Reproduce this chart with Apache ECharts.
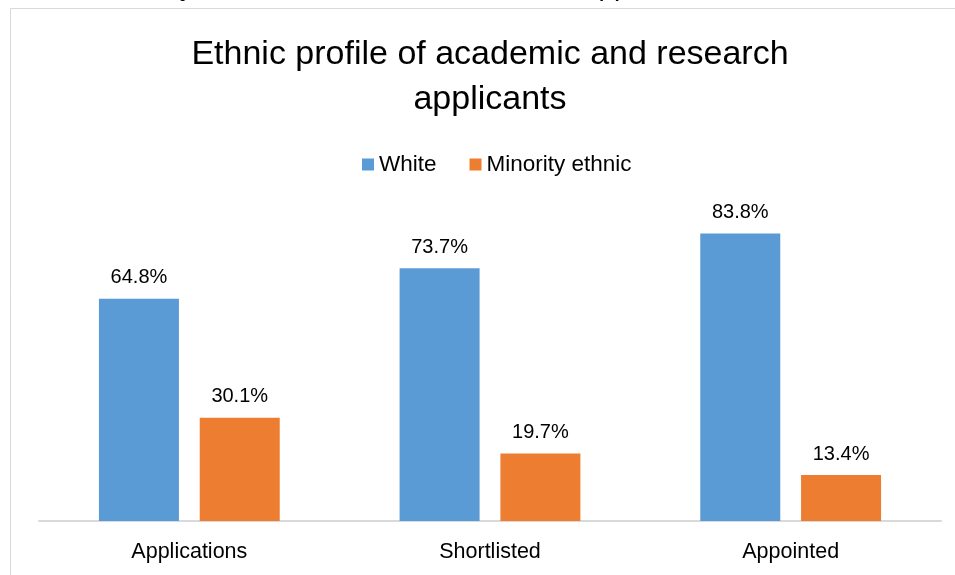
<!DOCTYPE html>
<html><head><meta charset="utf-8">
<script src="https://cdn.jsdelivr.net/npm/echarts@6/dist/echarts.min.js"></script>
<style>html,body{margin:0;padding:0;background:#fff}#c{width:955px;height:575px}</style>
</head><body><div id="c"></div>
<script>
const categories = ['Applications', 'Shortlisted', 'Appointed'];
const whiteValues = [64.8, 73.7, 83.8];
const minorityValues = [30.1, 19.7, 13.4];
const seriesNames = ['White', 'Minority ethnic'];
const titleText = 'Ethnic profile of academic and research\napplicants';
const captionText = 'Figure 10: Minority ethnic academic and research applicants to the';

const FONT = 'Liberation Sans';
const chart = echarts.init(document.getElementById('c'), null, {renderer: 'canvas'});
const lbl = {show: true, position: 'top', distance: 11, color: '#000', fontSize: 20, fontFamily: FONT,
  formatter: p => p.value.toFixed(1) + '%'};
chart.setOption({
  animation: false,
  graphic: [
    {type: 'rect', shape: {x: 10.5, y: 8.5, width: 1000, height: 1000}, style: {fill: 'none', stroke: '#d9d9d9', lineWidth: 1}, silent: true},
    {type: 'text', left: -38, top: -27, style: {text: captionText, fontSize: 28, fontFamily: FONT, fill: '#000'}},
    {type: 'text', x: 490, y: 32, style: {text: titleText, fontSize: 34, fontFamily: FONT, fill: '#000',
      align: 'center', verticalAlign: 'top', lineHeight: 45}}
  ],
  legend: {data: seriesNames, top: 148, left: 357, itemWidth: 12, itemHeight: 12, itemGap: 33,
    icon: 'rect', textStyle: {fontFamily: FONT, fontSize: 22.5, color: '#000'}},
  grid: {left: 39, right: 14, top: 178, bottom: 54, containLabel: false},
  xAxis: {type: 'category', data: categories,
    axisLine: {lineStyle: {color: '#d9d9d9', width: 2}}, axisTick: {show: false},
    axisLabel: {fontFamily: FONT, fontSize: 21.5, color: '#000', margin: 20}},
  yAxis: {type: 'value', min: 0, max: 100, show: false, splitLine: {show: false}},
  series: [
    {name: seriesNames[0], type: 'bar', data: whiteValues, barWidth: 80, barGap: '26%', itemStyle: {color: '#5B9BD5'}, label: lbl},
    {name: seriesNames[1], type: 'bar', data: minorityValues, barWidth: 80, itemStyle: {color: '#ED7D31'}, label: lbl}
  ]
});
</script></body></html>
